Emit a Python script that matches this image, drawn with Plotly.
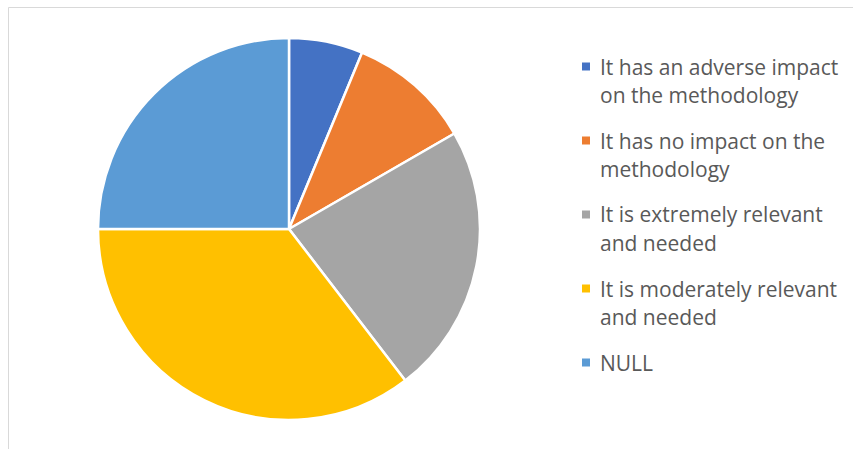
import plotly.graph_objects as go

# Survey responses
categories = [
    "It has an adverse impact<br>on the methodology",
    "It has no impact on the<br>methodology",
    "It is extremely relevant<br>and needed",
    "It is moderately relevant<br>and needed",
    "NULL",
]
counts = [3, 5, 11, 17, 12]
colors = ["#4472C4", "#ED7D31", "#A5A5A5", "#FFC000", "#5B9BD5"]

W, H = 853, 449
TEXT_COLOR = "#595959"
FONT = "Open Sans, Liberation Sans, sans-serif"


def px_x(x):
    return x / W


def px_y(y):
    return 1 - y / H


fig = go.Figure(
    go.Pie(
        labels=[c.replace("<br>", " ") for c in categories],
        values=counts,
        sort=False,
        direction="clockwise",
        rotation=0,
        textinfo="none",
        hoverinfo="label+value+percent",
        showlegend=False,
        marker=dict(colors=colors, line=dict(color="white", width=2.5)),
        domain=dict(x=[px_x(98), px_x(480)], y=[px_y(420), px_y(38)]),
    )
)

# Legend on the right: coloured key square plus wrapped label lines
shapes = [
    dict(
        type="rect",
        xref="paper",
        yref="paper",
        x0=px_x(8.5),
        x1=1.02,
        y0=-0.02,
        y1=px_y(7.5),
        line=dict(color="#D9D9D9", width=1),
        fillcolor="rgba(0,0,0,0)",
        layer="below",
    )
]
annotations = []
first_baseline, item_step, line_step = 74, 74, 28.3
for i, (label, color) in enumerate(zip(categories, colors)):
    base = first_baseline + item_step * i
    shapes.append(
        dict(
            type="rect",
            xref="paper",
            yref="paper",
            x0=px_x(582),
            x1=px_x(590),
            y0=px_y(base - 3.5),
            y1=px_y(base - 11.5),
            line=dict(width=0),
            fillcolor=color,
        )
    )
    for j, line in enumerate(label.split("<br>")):
        annotations.append(
            dict(
                xref="paper",
                yref="paper",
                x=px_x(598),
                y=px_y(base + line_step * j - 7.5),
                xanchor="left",
                yanchor="middle",
                text=line,
                showarrow=False,
                font=dict(family=FONT, size=21, color=TEXT_COLOR),
            )
        )

fig.update_layout(
    width=W,
    height=H,
    margin=dict(l=0, r=0, t=0, b=0),
    paper_bgcolor="white",
    plot_bgcolor="white",
    font=dict(family=FONT, color=TEXT_COLOR, size=18),
    shapes=shapes,
    annotations=annotations,
)

fig.write_html("out.html")
